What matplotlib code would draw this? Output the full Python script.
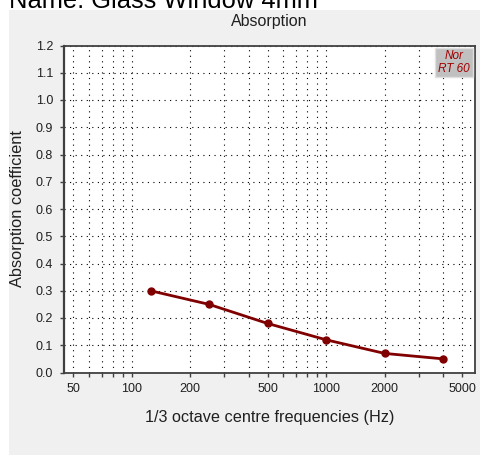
import matplotlib
matplotlib.use("Agg")
import matplotlib.pyplot as plt
from matplotlib.patches import Rectangle
from matplotlib.ticker import FixedLocator, NullFormatter

plt.rcParams['font.family'] = ['Liberation Sans', 'DejaVu Sans']

# Absorption coefficients per octave band
freqs = [125, 250, 500, 1000, 2000, 4000]
alpha = [0.30, 0.25, 0.18, 0.12, 0.07, 0.05]

major_ticks = [50, 100, 200, 500, 1000, 2000, 5000]
major_labels = ['50', '100', '200', '500', '1000', '2000', '5000']
minor_ticks = [60, 70, 80, 90, 300, 400, 600, 700, 800, 900, 3000, 4000]
y_ticks = [i / 10 for i in range(13)]

W, H = 480, 455
fig = plt.figure(figsize=(W / 100, H / 100), dpi=100)
fig.patch.set_facecolor('white')

# light grey panel behind the chart
fig.patches.append(Rectangle((9 / W, 0), 1, (H - 10) / H, transform=fig.transFigure,
                             facecolor='#f0f0f0', edgecolor='none', zorder=-10))

fig.text(9 / W, 1 - 8 / H, 'Name: Glass Window 4mm', fontsize=18.4, color='black',
         ha='left', va='baseline')

ax_l, ax_r, ax_t, ax_b = 63.5, 475, 45.5, 372.5
ax = fig.add_axes([ax_l / W, (H - ax_b) / H, (ax_r - ax_l) / W, (ax_b - ax_t) / H])
ax.set_zorder(1)
ax.set_facecolor('white')
ax.set_xscale('log')
ax.set_xlim(44.6, 5830)
ax.set_ylim(0, 1.2)

ax.xaxis.set_major_locator(FixedLocator(major_ticks))
ax.set_xticklabels(major_labels)
ax.xaxis.set_minor_locator(FixedLocator(minor_ticks))
ax.xaxis.set_minor_formatter(NullFormatter())
ax.set_yticks(y_ticks)
ax.set_yticklabels([f'{v:.1f}' for v in y_ticks])

ax.tick_params(axis='both', which='both', direction='out', length=3, width=1,
               color='#404040', labelsize=9, labelcolor='#202020', pad=4.5)

grid_style = dict(color='black', linestyle=(0, (1, 4)), linewidth=0.8)
ax.grid(True, which='major', axis='both', **grid_style)
ax.grid(True, which='minor', axis='x', **grid_style)
ax.set_axisbelow(True)

for side in ['left', 'bottom', 'top', 'right']:
    ax.spines[side].set_color('#404040')
    ax.spines[side].set_linewidth(1.3)
ax.spines['left'].set_linewidth(1.6)

ax.plot(freqs, alpha, color='#800000', linewidth=2, marker='o', markersize=5,
        markerfacecolor='#800000', markeredgecolor='#800000', zorder=3)

ax.set_title('Absorption', fontsize=11.5, color='#202020', pad=14)
ax.set_xlabel('1/3 octave centre frequencies (Hz)', fontsize=11.7, color='#202020', labelpad=11)
ax.set_ylabel('Absorption coefficient', fontsize=11.8, color='#202020', labelpad=8)

# "Nor / RT 60" badge in the top-right corner
aw, ah = ax_r - ax_l, ax_b - ax_t
bx0, bx1, by0, by1 = 435, 473, 48, 77
ax.add_patch(Rectangle(((bx0 - ax_l) / aw, (ax_b - by1) / ah), (bx1 - bx0) / aw, (by1 - by0) / ah,
                       transform=ax.transAxes, facecolor='#c0c0c0', edgecolor='#e0e0e0',
                       linewidth=1, zorder=4))
ax.text(((bx0 + bx1) / 2 - ax_l) / aw, (ax_b - (by0 + by1) / 2) / ah, 'Nor\nRT 60',
        transform=ax.transAxes, ha='center', va='center', fontsize=8.5, style='italic',
        color='#a00000', linespacing=1.2, zorder=5)

fig.savefig('out.png', dpi=100)
